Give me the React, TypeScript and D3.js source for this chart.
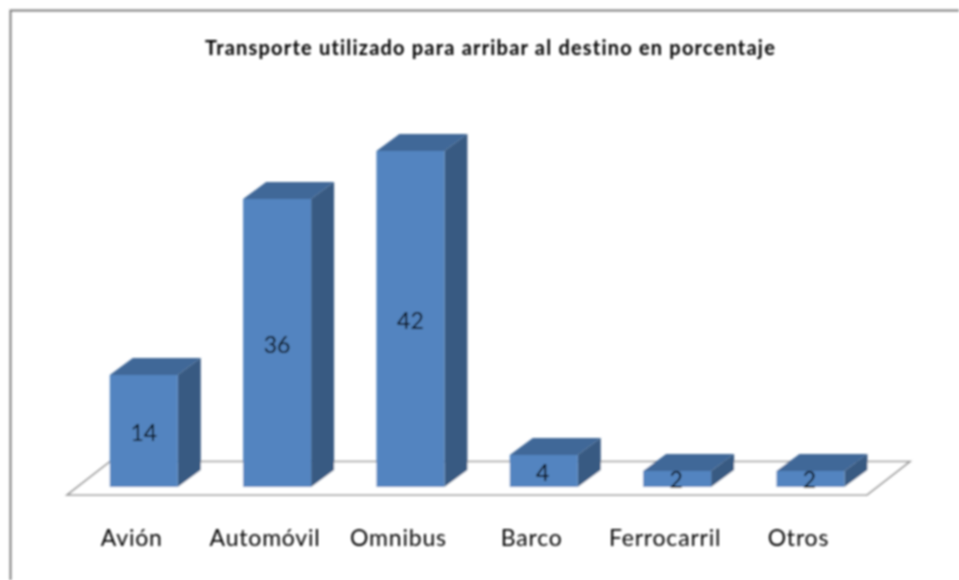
import React from "react";
import * as d3 from "d3";

const categories = ["Avión", "Automóvil", "Omnibus", "Barco", "Ferrocarril", "Otros"];
const values = [14, 36, 42, 4, 2, 2];
const titleText = "Transporte utilizado para arribar al destino en porcentaje";

const W = 959;
const H = 580;
const depthX = 23;
const depthY = 17;
const font = "Lato, 'Open Sans', sans-serif";

export default function App() {
  const x = d3.scaleBand<string>().domain(categories).range([77.1, 877.1]).paddingInner(0.49).paddingOuter(0.245);
  const y = d3.scaleLinear().domain([0, 42]).range([487, 151]);
  const bw = x.bandwidth();
  const floor = d3.line()([[67, 495], [867, 495], [910, 461.5], [110, 461.5]]) + "Z";
  return (
    <svg width={W} height={H} style={{ position: "fixed", left: 0, top: 0, background: "#fff" }}>
      <defs>
        <filter id="soft" filterUnits="userSpaceOnUse" x="0" y="0" width={W} height={H}>
          <feGaussianBlur stdDeviation="0.9" />
        </filter>
      </defs>
      <rect width={W} height={H} fill="#fff" />
      <g filter="url(#soft)">
        <path d={`M10.5,${H} V10.5 H${W}`} fill="none" stroke="#7c7c7c" strokeWidth={2} />
        <path d={floor} fill="#fff" stroke="#999" strokeWidth={1.6} />
        {categories.map((c, i) => {
          const x0 = x(c) as number;
          const x1 = x0 + bw;
          const yT = y(values[i]);
          const yB = y(0);
          return (
            <g key={c}>
              <path d={`M${x0},${yT} l${depthX},${-depthY} H${x1 + depthX} L${x1},${yT} Z`} fill="#406898" />
              <path d={`M${x1},${yT} l${depthX},${-depthY} V${yB - depthY} L${x1},${yB} Z`} fill="#375a82" />
              <rect x={x0} y={yT} width={bw} height={yB - yT} fill="#5284c0" />
              <text x={x0 + bw / 2 - (i > 2 ? 1 : 0)} y={(yT + yB) / 2 + 10 - (i > 3 ? 1 : 0)} textAnchor="middle" fontFamily={font} fontSize={23} fill="#000">
                {values[i]}
              </text>
              <text x={x0 + bw / 2 - 12} y={546} textAnchor="middle" fontFamily={font} fontSize={23} letterSpacing={0.8} fill="#000">
                {c}
              </text>
            </g>
          );
        })}
        <text x={490.5} y={55} textAnchor="middle" fontFamily={font} fontWeight={700} fontSize={20} letterSpacing={1.2} fill="#000">
          {titleText}
        </text>
      </g>
    </svg>
  );
}
